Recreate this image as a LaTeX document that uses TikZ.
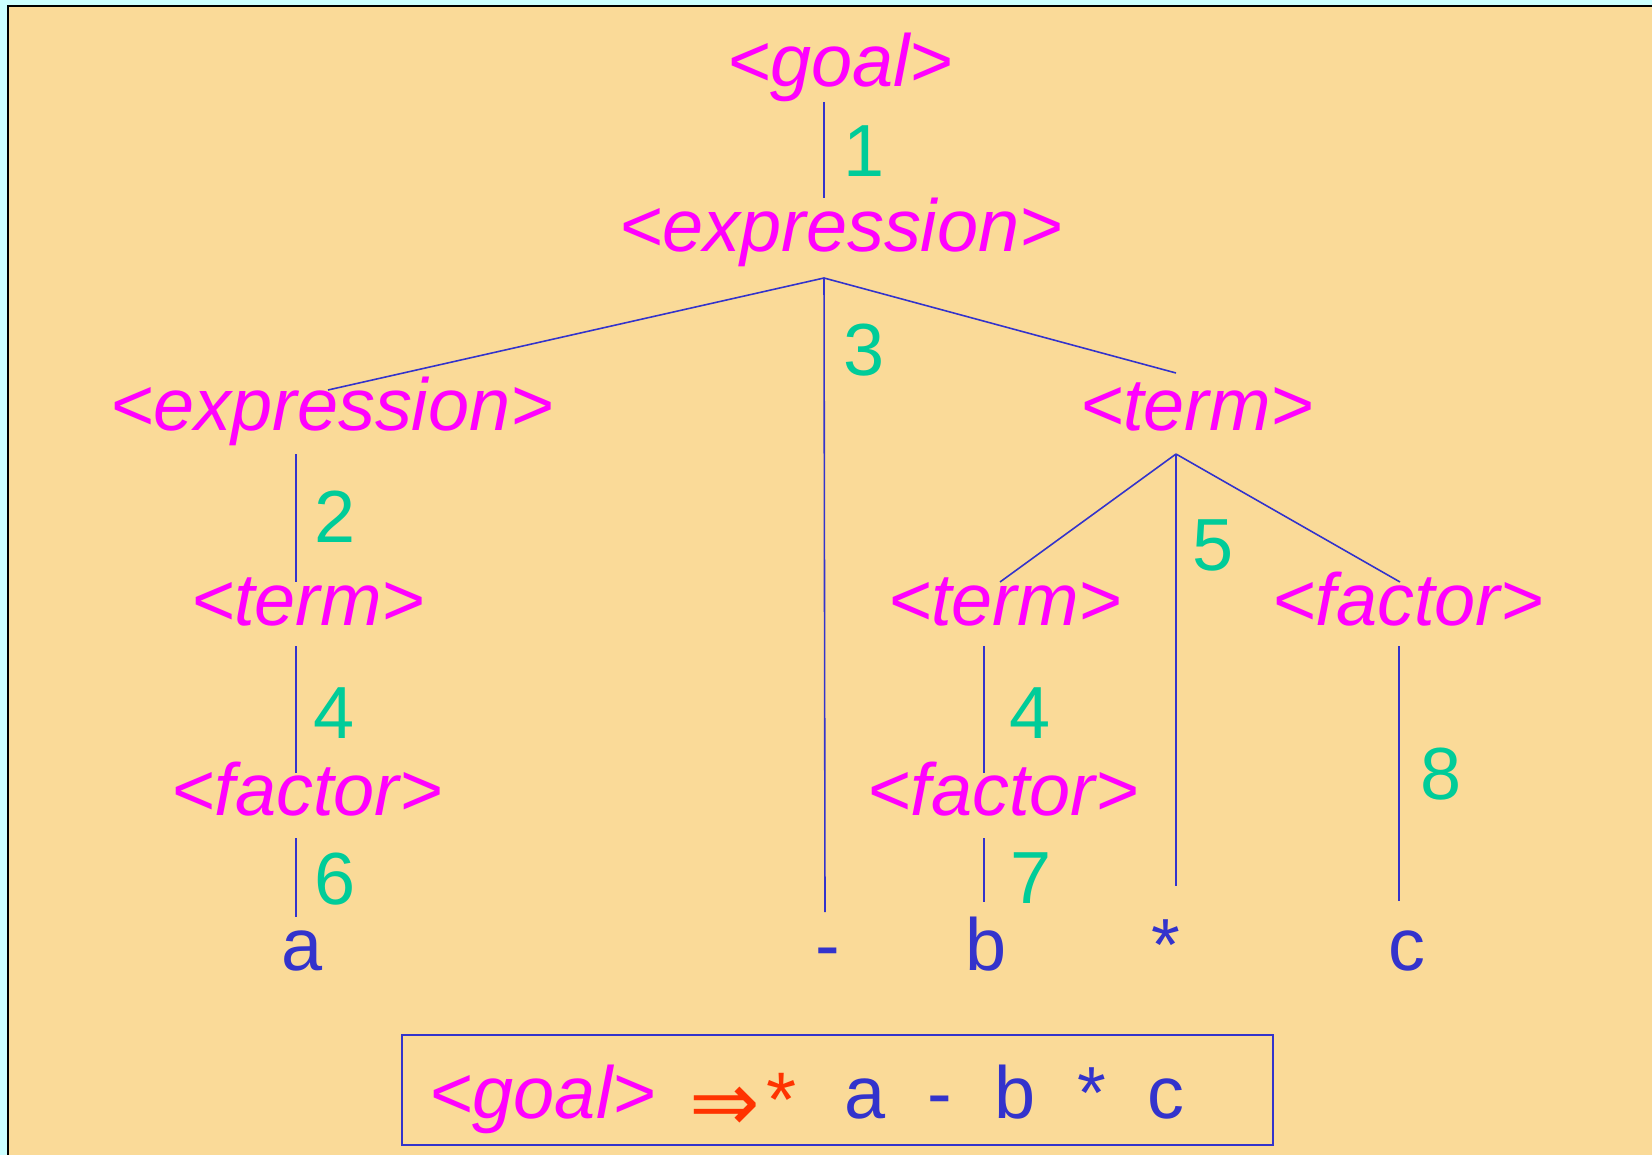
\documentclass[tikz,border=0pt]{standalone}
\usepackage{fontspec}
\setmainfont{Liberation Sans}
\newfontfamily\arrowfont{DejaVu Sans}
\usetikzlibrary{calc}

\definecolor{page}{HTML}{CCFFFF}
\definecolor{paper}{HTML}{FADA98}
\definecolor{ntcol}{HTML}{FF00FF}
\definecolor{rulecol}{HTML}{00CC99}
\definecolor{tokcol}{HTML}{3333CC}
\definecolor{derivcol}{HTML}{FF3300}

\begin{document}
\begin{tikzpicture}[
  x=0.01cm, y=-0.01cm,
  every node/.style={inner sep=0, anchor=base, font=\fontsize{21}{25}\selectfont},
  nt/.style={text=ntcol, font=\fontsize{21}{25}\selectfont\itshape},
  rnum/.style={text=rulecol},
  tok/.style={text=tokcol},
  link/.style={draw=tokcol, line width=0.45pt}
]
  \useasboundingbox (0,0) rectangle (1652,1155);
  \fill[page] (0,0) rectangle (1652,1155);
  \draw[line width=0.6pt, fill=paper] (8,6) rectangle (1670,1170);

  % nonterminals
  \node[nt] (goal)  at (840,87)   {<goal>};
  \node[nt] (expr)  at (841,252)  {<expression>};
  \node[nt] (exprL) at (332,430)  {<expression>};
  \node[nt] (termR) at (1197,430) {<term>};
  \node[nt] (termL) at (308,625)  {<term>};
  \node[nt] (termM) at (1005,625) {<term>};
  \node[nt] (factR) at (1408,625) {<factor>};
  \node[nt] (factL) at (307,815)  {<factor>};
  \node[nt] (factM) at (1003,815) {<factor>};

  % terminals
  \node[tok] (ta)     at (302,970)  {a};
  \node[tok] (tminus) at (828,970)  {-};
  \node[tok] (tb)     at (986,970)  {b};
  \node[tok] (tstar)  at (1166,970) {*};
  \node[tok] (tc)     at (1407,970) {c};

  % rule numbers
  \node[rnum] (r1)  at (864,177)  {1};
  \node[rnum] (r3)  at (864,376)  {3};
  \node[rnum] (r2)  at (335,542)  {2};
  \node[rnum] (r4a) at (334,738)  {4};
  \node[rnum] (r6)  at (335,904)  {6};
  \node[rnum] (r5)  at (1213,570) {5};
  \node[rnum] (r4b) at (1030,738) {4};
  \node[rnum] (r7)  at (1031,903) {7};
  \node[rnum] (r8)  at (1441,799) {8};

  % tree lines
  \coordinate (fork1) at ($(expr.base)+(-17,26)$);
  \coordinate (fork2) at ($(termR.base)+(-21,24)$);
  \draw[link] ($(goal.base)+(-16,15)$) -- ($(expr.base)+(-17,-54)$);
  \foreach \n/\dx/\dy in {exprL/-4/-40, termR/-21/-57, tminus/-3/-58}
    \draw[link] (fork1) -- ($(\n.base)+(\dx,\dy)$);
  \foreach \n/\dx/\dy in {termM/-5/-43, factR/-8/-43, tstar/10/-84}
    \draw[link] (fork2) -- ($(\n.base)+(\dx,\dy)$);
  \draw[link] ($(exprL.base)+(-36,24)$) -- ($(termL.base)+(-12,-43)$);
  \draw[link] ($(termL.base)+(-12,21)$) -- ($(factL.base)+(-11,-42)$);
  \draw[link] ($(factL.base)+(-11,23)$) -- ($(ta.base)+(-6,-53)$);
  \draw[link] ($(termM.base)+(-21,21)$) -- ($(factM.base)+(-19,-42)$);
  \draw[link] ($(factM.base)+(-19,23)$) -- ($(tb.base)+(-2,-68)$);
  \draw[link] ($(factR.base)+(-9,21)$) -- ($(tc.base)+(-8,-69)$);

  % derivation box
  \node[draw=tokcol, line width=0.6pt, minimum width=8.7cm, minimum height=1.1cm, anchor=north west] (frame) at (401,1034) {};
  \node[anchor=base west] (deriv) at ($(frame.south west)+(28,-28)$)
    {{\color{ntcol}\itshape <goal>}\hspace{0.34cm}{\color{derivcol}\raisebox{-0.13cm}{\arrowfont\fontsize{24}{24}\selectfont ⇒}\hspace{0.06cm}\raisebox{-0.08cm}{\fontsize{22}{22}\selectfont *}}\hspace{0.48cm}{\color{tokcol}a\hspace{0.42cm}-\hspace{0.42cm}b\hspace{0.42cm}*\hspace{0.42cm}c}};
\end{tikzpicture}
\end{document}
